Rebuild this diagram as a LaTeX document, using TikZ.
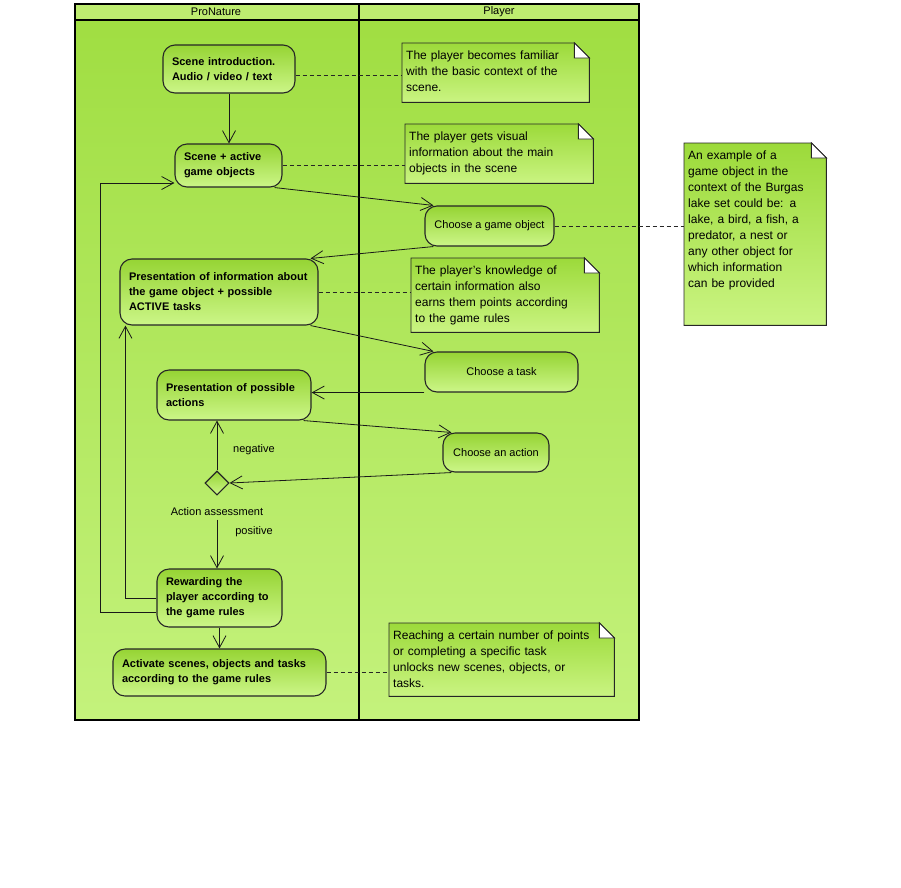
\documentclass[tikz,border=0pt]{standalone}
\usepackage{fontspec}
\setmainfont{Liberation Sans}
\usetikzlibrary{shapes.geometric, arrows.meta}

\definecolor{laneTop}{RGB}{160,222,66}
\definecolor{laneBot}{RGB}{196,242,124}
\definecolor{headFill}{RGB}{190,236,112}
\definecolor{nodeTop}{RGB}{150,212,52}
\definecolor{nodeBot}{RGB}{204,246,136}
\definecolor{noteTop}{RGB}{156,218,58}
\definecolor{noteBot}{RGB}{202,244,130}

\pgfdeclarelayer{lanes}
\pgfdeclarelayer{notebg}
\pgfsetlayers{lanes,notebg,main}

\begin{document}
\begin{tikzpicture}[x=1pt, y=-1pt,
        act/.style={rectangle, draw=black!85, line width=1.1pt, rounded corners=12pt, top color=nodeTop, bottom color=nodeBot, align=left, inner xsep=9pt, font=\fontsize{11}{15}\selectfont\bfseries},
        choice/.style={rectangle, draw=black!85, line width=1.1pt, rounded corners=12pt, top color=nodeTop, bottom color=nodeBot, align=center, font=\fontsize{11}{15}\selectfont},
        decision/.style={diamond, draw=black!85, line width=1.1pt, top color=nodeTop, bottom color=nodeBot, minimum width=24pt, minimum height=24pt, inner sep=0pt},
        note/.style={anchor=north west, inner xsep=4pt, inner ysep=4pt, text height=12pt, align=left, font=\fontsize{12}{16}\selectfont},
        notebox/.style={draw=black!85, line width=0.9pt, top color=noteTop, bottom color=noteBot},
        lbl/.style={font=\fontsize{11}{13}\selectfont},
        arrow/.style={-{Straight Barb[length=12pt, width=13pt]}, line width=0.8pt, color=black!90},
        link/.style={line width=0.8pt, dash pattern=on 4pt off 3pt, color=black!85}
    ]
        \useasboundingbox (0,0) rectangle (901,887);

        % Swimlanes
        \begin{pgfonlayer}{lanes}
            \shade[top color=laneTop, bottom color=laneBot] (75,20) rectangle (639,720);
            \fill[headFill] (75,4) rectangle (639,20);
            \draw[line width=1.6pt] (75,4) rectangle (639,720) (75,20) -- (639,20) (359,4) -- (359,720);
        \end{pgfonlayer}
        \node[lbl] (laneA) at (216,12) {ProNature};
        \node[lbl] (laneB) at (499,12) {Player};

        % ProNature lane
        \node[act, text width=114pt, minimum height=48pt] (intro) at (229,69) {Scene introduction.\\Audio / video / text};
        \node[act, text width=89pt, minimum height=43pt] (scene) at (228.5,165.5) {Scene + active\\game objects};
        \node[act, text width=180pt, minimum height=66pt] (presinfo) at (219,292) {Presentation of information about\\the game object + possible\\ACTIVE tasks};
        \node[act, text width=136pt, minimum height=50pt] (presact) at (234,395) {Presentation of possible\\actions};
        \node[decision] (dec) at (217,483) {};
        \node[lbl] (assess) at (217,512) {Action assessment};
        \node[lbl] at (254,450) {negative};
        \node[lbl] at (254,532) {positive};
        \node[act, text width=107pt, minimum height=58pt] (reward) at (219.5,598) {Rewarding the\\player according to\\the game rules};
        \node[act, text width=195pt, minimum height=47pt] (unlock) at (219.5,672.5) {Activate scenes, objects and tasks\\according to the game rules};

        % Player lane
        \node[choice, minimum width=129pt, minimum height=40pt] (choosegame) at (489.5,226) {Choose a game object};
        \node[choice, minimum width=153pt, minimum height=40pt] (choosetask) at (501.5,372) {Choose a task};
        \node[choice, minimum width=106pt, minimum height=39pt] (chooseact) at (496,452.5) {Choose an action};

        % Notes
        \node[note, text width=179pt, text depth=39pt] (noteA) at (402,43) {The player becomes familiar\\with the basic context of the\\scene.};
        \node[note, text width=180pt, text depth=39pt] (noteB) at (405,124) {The player gets visual\\information about the main\\objects in the scene};
        \node[note, text width=180pt, text depth=54pt] (noteC) at (411,258) {The player's knowledge of\\certain information also\\earns them points according\\to the game rules};
        \node[note, text width=217pt, text depth=53pt] (noteD) at (389,623) {Reaching a certain number of points\\or completing a specific task\\unlocks new scenes, objects, or\\tasks.};
        \node[note, text width=134pt, text depth=162pt] (noteE) at (684,143) {An example of a\\game object in the\\context of the Burgas\\lake set could be: a\\lake, a bird, a fish, a\\predator, a nest or\\any other object for\\which information\\can be provided};

        \begin{pgfonlayer}{notebg}
            \foreach \n in {noteA,noteB,noteC,noteD,noteE} {
                \draw[notebox] (\n.north west) -- ([xshift=-15pt]\n.north east) -- ([yshift=-15pt]\n.north east) -- (\n.south east) -- (\n.south west) -- cycle;
                \draw[line width=0.9pt, draw=black!85, fill=white] ([xshift=-15pt]\n.north east) -- ([xshift=-15pt, yshift=-15pt]\n.north east) -- ([yshift=-15pt]\n.north east) -- cycle;
            }
        \end{pgfonlayer}

        % Arrows
        \draw[arrow] (intro.south) -- (intro.south |- scene.north);
        \draw[arrow] ([xshift=-8pt]scene.south east) -- ([xshift=9pt]choosegame.north west);
        \draw[arrow] ([xshift=9pt]choosegame.south west) -- ([xshift=-8pt]presinfo.north east);
        \draw[arrow] ([xshift=-8pt]presinfo.south east) -- ([xshift=9pt]choosetask.north west);
        \draw[arrow] (choosetask.south west) -- (choosetask.south west -| presact.east);
        \draw[arrow] ([xshift=-8pt]presact.south east) -- ([xshift=9pt]chooseact.north west);
        \draw[arrow] ([xshift=9pt]chooseact.south west) -- (dec.east);
        \draw[arrow] (dec.north) -- (dec.north |- presact.south);
        \draw[arrow] (assess.south) -- (assess.south |- reward.north);
        \draw[arrow] (reward) -- (unlock);

        % Return arrows
        \draw[arrow] (reward.west) -| ([xshift=6pt]presinfo.south west);
        \draw[arrow] ([yshift=-14pt]reward.west) -- ++(-56,0) |- ([yshift=-17.5pt]scene.west);

        % Note links
        \draw[link] ([yshift=-6pt]intro.east) -- ([yshift=-6pt]intro.east -| noteA.west);
        \draw[link] (scene.east) -- (scene.east -| noteB.west);
        \draw[link] (choosegame.east) -- (choosegame.east -| noteE.west);
        \draw[link] (presinfo.east) -- (presinfo.east -| noteC.west);
        \draw[link] (unlock.east) -- (unlock.east -| noteD.west);

    \end{tikzpicture}
\end{document}
